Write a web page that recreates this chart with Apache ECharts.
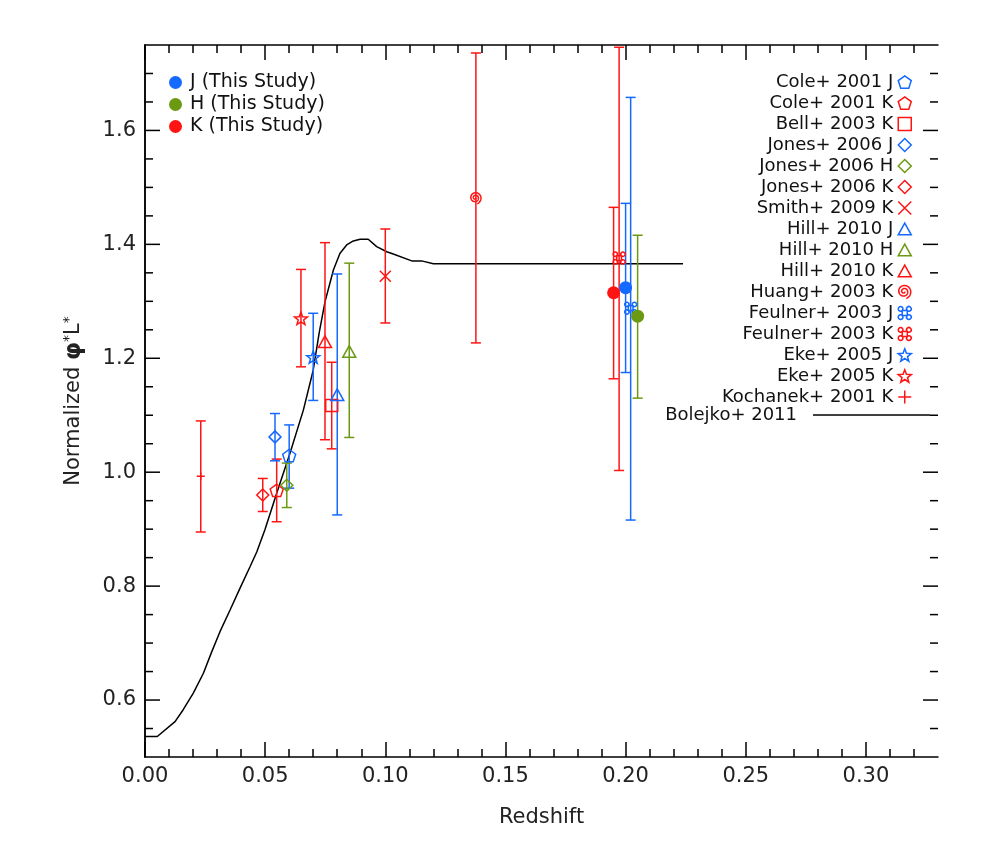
<!DOCTYPE html>
<html><head><meta charset="utf-8">
<script src="https://cdn.jsdelivr.net/npm/echarts@6/dist/echarts.min.js"></script>
<style>html,body{margin:0;padding:0;background:#fff}#c{width:981px;height:850px}</style>
</head><body><div id="c"></div>
<script>
// ---------- DATA ----------
// Literature measurements (legend order)
const litNames = ['Cole+ 2001 J','Cole+ 2001 K','Bell+ 2003 K','Jones+ 2006 J','Jones+ 2006 H','Jones+ 2006 K','Smith+ 2009 K','Hill+ 2010 J','Hill+ 2010 H','Hill+ 2010 K','Huang+ 2003 K','Feulner+ 2003 J','Feulner+ 2003 K','Eke+ 2005 J','Eke+ 2005 K','Kochanek+ 2001 K'];
const litZ  = [0.0600,0.0548,0.0777,0.0541,0.0590,0.0490,0.1000,0.0800,0.0850,0.0749,0.1377,0.2021,0.1973,0.0700,0.0649,0.0232];
const litY  = [1.029,0.968,1.117,1.062,0.977,0.960,1.344,1.136,1.212,1.229,1.481,1.288,1.376,1.202,1.270,0.993];
const litLo = [0.972,0.913,1.041,1.020,0.938,0.931,1.262,0.925,1.061,1.057,1.227,0.916,1.003,1.126,1.185,0.895];
const litHi = [1.083,1.023,1.193,1.103,1.016,0.989,1.427,1.348,1.367,1.403,1.736,1.658,1.746,1.279,1.356,1.090];
// This study
const studyNames = ['J (This Study)','H (This Study)','K (This Study)'];
const studyZ  = [0.200,0.205,0.195];
const studyY  = [1.324,1.274,1.315];
const studyLo = [1.175,1.130,1.164];
const studyHi = [1.472,1.416,1.465];
// Model curve
const modelName = 'Bolejko+ 2011';
const modelZ = [0.0000,0.0051,0.0125,0.0159,0.0201,0.0243,0.0278,0.0312,0.0354,0.0395,0.0437,0.0465,0.0499,0.0548,0.0603,0.0659,0.0700,0.0725,0.0749,0.0784,0.0811,0.0839,0.0867,0.0895,0.0929,0.0964,0.1006,0.1033,0.1110,0.1151,0.1200,0.2239];
const modelY = [0.536,0.536,0.562,0.583,0.612,0.647,0.685,0.720,0.758,0.796,0.834,0.860,0.899,0.963,1.033,1.109,1.179,1.245,1.299,1.355,1.384,1.399,1.406,1.409,1.409,1.396,1.387,1.383,1.371,1.371,1.366,1.366];
// Axes
const xTicks = [0.00,0.05,0.10,0.15,0.20,0.25,0.30];
const xMinorTicks = [0.01,0.02,0.03,0.04,0.06,0.07,0.08,0.09,0.11,0.12,0.13,0.14,0.16,0.17,0.18,0.19,0.21,0.22,0.23,0.24,0.26,0.27,0.28,0.29,0.31,0.32];
const yTicks = [0.6,0.8,1.0,1.2,1.4,1.6];
const yMinorTicks = [0.55,0.65,0.7,0.75,0.85,0.9,0.95,1.05,1.1,1.15,1.25,1.3,1.35,1.45,1.5,1.55,1.65,1.7];
const xTitle = 'Redshift';
const X_MIN = 0, X_MAX = 0.33, Y_MIN = 0.5, Y_MAX = 1.75;

// ---------- STYLE ----------
const FONT = 'DejaVu Sans';
const bandColor = {J:'#1469ff', H:'#6b9a12', K:'#ff1414'};
function starPath(){let p='path://';for(let k=0;k<10;k++){const a=-Math.PI/2+k*Math.PI/5,r=k%2?4.2:10;p+=(k?'L':'M')+(r*Math.cos(a)).toFixed(2)+','+(r*Math.sin(a)).toFixed(2);}return p+'Z';}
function spiralPath(){let p='path://';const n=120;for(let i=0;i<=n;i++){const t=i/n*2.2*2*Math.PI,r=1+9*i/n;p+=(i?'L':'M')+(r*Math.cos(t)).toFixed(2)+','+(r*Math.sin(t)).toFixed(2);}return p;}
const SYM = {
  pentagon:'path://M0,-10L9.51,-3.09L5.88,8.09L-5.88,8.09L-9.51,-3.09Z',
  square:'path://M-10,-10L10,-10L10,10L-10,10Z',
  diamond:'path://M0,-10L10,0L0,10L-10,0Z',
  cross:'path://M-10,-10L10,10M10,-10L-10,10',
  triangle:'path://M0,-10L10,8L-10,8Z',
  plus:'path://M-10,0L10,0M0,-10L0,10',
  star:starPath(),
  spiral:spiralPath(),
  clover:'path://M-4,-4L4,-4L4,4L-4,4Z M-4,-4A3.54,3.54 0 1,1 -9,-9A3.54,3.54 0 1,1 -4,-4Z M4,-4A3.54,3.54 0 1,0 9,-9A3.54,3.54 0 1,0 4,-4Z M4,4A3.54,3.54 0 1,1 9,9A3.54,3.54 0 1,1 4,4Z M-4,4A3.54,3.54 0 1,0 -9,9A3.54,3.54 0 1,0 -4,4Z'
};
const symByAuthor = {Cole:'pentagon',Bell:'square',Jones:'diamond',Smith:'cross',Hill:'triangle',Huang:'spiral',Feulner:'clover',Eke:'star',Kochanek:'plus'};
const sizeBySym = {pentagon:13,square:12,diamond:12,cross:11,triangle:13,plus:8,star:13,spiral:11,clover:12};

function errSeries(id, z, lo, hi, color){
  return {type:'custom', id:id, name:id, silent:true, z:2, clip:false,
    encode:{x:0,y:1},
    data: z.map((v,i)=>[v, lo[i], hi[i]]),
    renderItem:(params, api)=>{
      const x = api.value(0);
      const a = api.coord([x, api.value(1)]);
      const b = api.coord([x, api.value(2)]);
      const w = 5, st = {stroke:color, lineWidth:1.5};
      return {type:'group', children:[
        {type:'line', shape:{x1:a[0],y1:a[1],x2:b[0],y2:b[1]}, style:st},
        {type:'line', shape:{x1:a[0]-w,y1:a[1],x2:a[0]+w,y2:a[1]}, style:st},
        {type:'line', shape:{x1:b[0]-w,y1:b[1],x2:b[0]+w,y2:b[1]}, style:st}
      ]};
    }};
}
// inward y-axis ticks on both left and right frame edges
function yTickSeries(id, vals, len){
  return {type:'custom', id:id, name:id, silent:true, z:6, clip:false,
    encode:{x:0,y:1},
    data: vals.map(v=>[X_MIN, v]),
    renderItem:(params, api)=>{
      const v = api.value(1);
      const l = api.coord([X_MIN, v]), r = api.coord([X_MAX, v]);
      const st = {stroke:'#000', lineWidth:1.5};
      return {type:'group', children:[
        {type:'line', shape:{x1:l[0],y1:l[1],x2:l[0]+len,y2:l[1]}, style:st},
        {type:'line', shape:{x1:r[0]-len,y1:r[1],x2:r[0],y2:r[1]}, style:st}
      ]};
    }};
}

const series = [];
series.push({type:'line', name:modelName, data:modelZ.map((z,i)=>[z,modelY[i]]), symbol:'none', showSymbol:false,
  lineStyle:{color:'#000', width:1.5}, itemStyle:{color:'#000'}, z:1, silent:true});
litNames.forEach((n,i)=>{
  const band = n.slice(-1), col = bandColor[band];
  const s = symByAuthor[n.split('+')[0]];
  series.push(errSeries('err_'+n, [litZ[i]], [litLo[i]], [litHi[i]], col));
  series.push({type:'scatter', name:n, data:[[litZ[i], litY[i]]], symbol:SYM[s], symbolSize:sizeBySym[s], symbolKeepAspect:true,
    itemStyle:{color:'rgba(0,0,0,0)', borderColor:col, borderWidth:1.5, opacity:1}, z:4, silent:true});
});
studyNames.forEach((n,i)=>{
  const col = bandColor[n[0]];
  series.push(errSeries('err_'+n, [studyZ[i]], [studyLo[i]], [studyHi[i]], col));
  series.push({type:'scatter', name:n, data:[[studyZ[i], studyY[i]]], symbol:'circle', symbolSize:13,
    itemStyle:{color:col, borderColor:col, borderWidth:0, opacity:1}, z:5, silent:true});
});
series.push(yTickSeries('yMajorTicks', yTicks, 15));
series.push(yTickSeries('yMinorTicks', yMinorTicks, 8));

const axLine = {show:true, lineStyle:{color:'#000', width:1.5}};
const tickStyle = {color:'#000', width:1.5};
function xAx(pos, major, labels){
  return {type:'value', position:pos, min:X_MIN, max:X_MAX, gridIndex:0,
    axisLine: major ? axLine : {show:false},
    splitLine:{show:false},
    axisTick:{show:true, inside:true, length: major?15:8, lineStyle:tickStyle, customValues: major?xTicks:xMinorTicks},
    axisLabel: labels ? {show:true, customValues:xTicks, formatter:v=>v.toFixed(2), margin:9, color:'#222', fontSize:21, fontFamily:FONT} : {show:false},
    name: labels ? xTitle : '', nameLocation:'middle', nameGap:50,
    nameTextStyle:{color:'#222', fontSize:21, fontFamily:FONT}};
}
function yLineAx(pos, labels){
  return {type:'value', position:pos, min:Y_MIN, max:Y_MAX, gridIndex:0,
    axisLine: axLine, splitLine:{show:false}, axisTick:{show:false},
    axisLabel: labels ? {show:true, customValues:yTicks, formatter:v=>v.toFixed(1), margin:9, color:'#222', fontSize:21, fontFamily:FONT} : {show:false},
    name: labels ? 'Normalized {p|φ}{s|*}L{s|*}' : '', nameLocation:'middle', nameGap:59, nameRotate:90,
    nameTextStyle:{color:'#222', fontSize:21, fontFamily:FONT,
      rich:{p:{fontSize:23, fontWeight:'bold', fontFamily:FONT, color:'#222'}, s:{fontSize:14, fontFamily:FONT, color:'#222', padding:[0,0,10,0]}}}};
}

const option = {
  animation:false,
  backgroundColor:'#fff',
  grid:{left:145, right:43, top:45, bottom:93},
  xAxis:[xAx('bottom',true,true), xAx('bottom',false,false), xAx('top',true,false), xAx('top',false,false)],
  yAxis:[yLineAx('left',true), yLineAx('right',false)],
  legend:[
    {data:studyNames, orient:'vertical', left:169, top:73, padding:0, itemWidth:13, itemHeight:13, itemGap:3, icon:'circle', selectedMode:false,
      itemStyle:{borderWidth:0},
      textStyle:{fontFamily:FONT, fontSize:19, color:'#111', padding:[0,0,0,3]}},
    {data:litNames, orient:'vertical', right:69, top:73, padding:0, align:'right', itemWidth:13, itemHeight:13, itemGap:3, selectedMode:false,
      itemStyle:{borderWidth:1.5},
      textStyle:{fontFamily:FONT, fontSize:18, color:'#111'}},
    {data:[{name:modelName, icon:'rect'}], orient:'vertical', right:51, top:406, padding:0, align:'right', itemWidth:117, itemHeight:1.6, selectedMode:false,
      itemStyle:{color:'#000', borderWidth:0},
      textStyle:{fontFamily:FONT, fontSize:18, color:'#111', padding:[0,11,0,0]}}
  ],
  series: series
};
const chart = echarts.init(document.getElementById('c'), null, {renderer:'canvas'});
chart.setOption(option);
</script></body></html>
